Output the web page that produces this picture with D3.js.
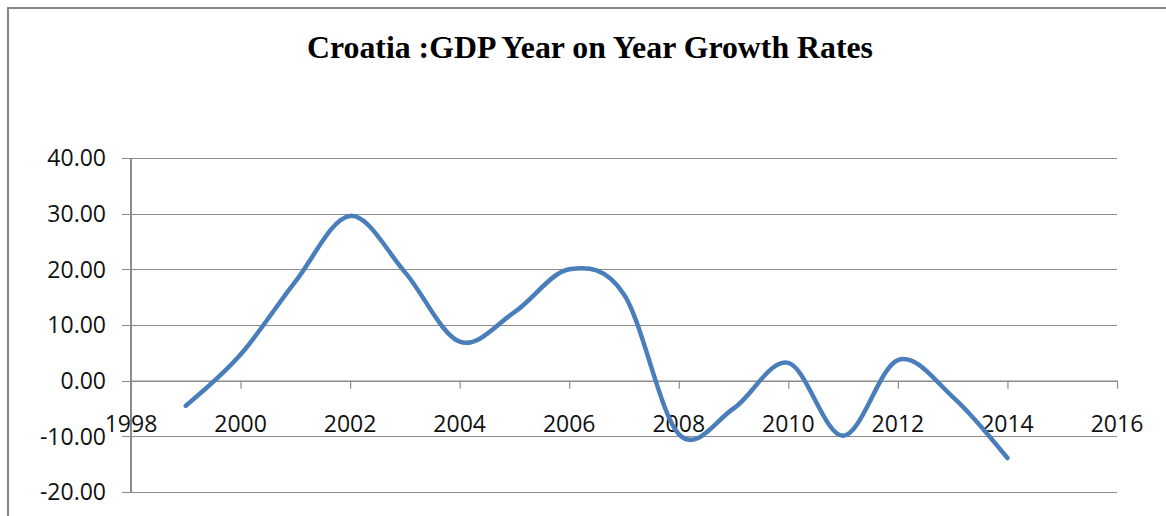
<!DOCTYPE html>
<html>
<head>
<meta charset="utf-8">
<script src="https://cdn.jsdelivr.net/npm/d3@7"></script>
<style>
  html, body { margin: 0; padding: 0; background: #fff; overflow: hidden; }
  svg { display: block; }
  .tick-label { font-family: "Open Sans", sans-serif; font-size: 23px; fill: #111; }
</style>
</head>
<body>
<div id="chart"></div>
<script>
// chart values
var years   = [1999, 2000, 2001, 2002, 2003, 2004, 2005, 2006, 2007, 2008, 2009, 2010, 2011, 2012, 2013, 2014];
var growth  = [-4.5, 4.7, 17.8, 29.6, 19.5, 7.0, 12.3, 20.0, 15.5, -9.6, -5.0, 3.2, -9.9, 3.7, -2.9, -13.9];
var yTicks  = [-20, -10, 0, 10, 20, 30, 40];
var xTicks  = [1998, 2000, 2002, 2004, 2006, 2008, 2010, 2012, 2014, 2016];
var title   = "Croatia :GDP Year on Year Growth Rates";

var W = 1166, H = 516;

// plain hyphen for negatives, like the original sheet
var fmt = d3.formatLocale({decimal: '.', thousands: ',', grouping: [3], currency: ['', ''], minus: '-'}).format('.2f');

var svg = d3.select('#chart').append('svg')
  .attr('width', W)
  .attr('height', H);

// outer chart border (right and bottom edges fall outside the picture)
svg.append('rect')
  .attr('x', 8).attr('y', 8)
  .attr('width', W + 20).attr('height', H + 20)
  .attr('fill', '#fff')
  .attr('stroke', '#868686')
  .attr('stroke-width', 2);

// title
svg.append('text')
  .attr('x', 590)
  .attr('y', 58)
  .attr('text-anchor', 'middle')
  .attr('font-family', '"Liberation Serif", "Times New Roman", serif')
  .attr('font-weight', 'bold')
  .attr('font-size', 31)
  .attr('textLength', 566)
  .attr('lengthAdjust', 'spacingAndGlyphs')
  .attr('fill', '#000')
  .text(title);

// scales
var x = d3.scaleLinear().domain([1998, 2016]).range([131, 1117]);
var y = d3.scaleLinear().domain([-20, 40]).range([492, 158]);

var grid = '#8c8c8c';

// horizontal gridlines with the little tick stubs on the left
svg.append('g')
  .attr('transform', 'translate(' + x(1998) + ',0)')
  .call(d3.axisLeft(y)
    .tickValues(yTicks)
    .tickSize(-(x(2016) - x(1998)))
    .tickPadding(0)
    .tickFormat(''))
  .call(function(g){
    g.select('.domain').remove();
    g.selectAll('.tick line')
      .attr('x1', -9)
      .attr('stroke', grid)
      .attr('stroke-width', 1.2)
      .attr('shape-rendering', 'crispEdges');
  });

// y labels
svg.append('g').selectAll('text')
  .data(yTicks)
  .enter().append('text')
    .attr('class', 'tick-label')
    .attr('x', 106)
    .attr('y', function(d){ return y(d); })
    .attr('dy', '0.36em')
    .attr('text-anchor', 'end')
    .text(function(d){ return fmt(d); });

// vertical axis line
svg.append('line')
  .attr('x1', x(1998)).attr('x2', x(1998))
  .attr('y1', y(40)).attr('y2', y(-20))
  .attr('stroke', grid)
  .attr('stroke-width', 1.2)
  .attr('shape-rendering', 'crispEdges');

// horizontal axis crossing at zero
svg.append('g')
  .attr('transform', 'translate(0,' + y(0) + ')')
  .call(d3.axisBottom(x)
    .tickValues(xTicks)
    .tickSize(8)
    .tickSizeOuter(0)
    .tickFormat(''))
  .call(function(g){
    g.select('.domain').attr('stroke', grid).attr('stroke-width', 1.2);
    g.selectAll('.tick line').attr('stroke', grid).attr('stroke-width', 1.2);
  });

// x labels
svg.append('g').selectAll('text')
  .data(xTicks)
  .enter().append('text')
    .attr('class', 'tick-label')
    .attr('x', function(d){ return x(d); })
    .attr('y', 432)
    .attr('text-anchor', 'middle')
    .text(function(d){ return d; });

// the smoothed series
var line = d3.line()
  .x(function(d, i){ return x(years[i]); })
  .y(function(d){ return y(d); })
  .curve(d3.curveCardinal.tension(0));

svg.append('path')
  .datum(growth)
  .attr('d', line)
  .attr('fill', 'none')
  .attr('stroke', '#4a7ebb')
  .attr('stroke-width', 4.5)
  .attr('stroke-linejoin', 'round')
  .attr('stroke-linecap', 'round');
</script>
</body>
</html>
